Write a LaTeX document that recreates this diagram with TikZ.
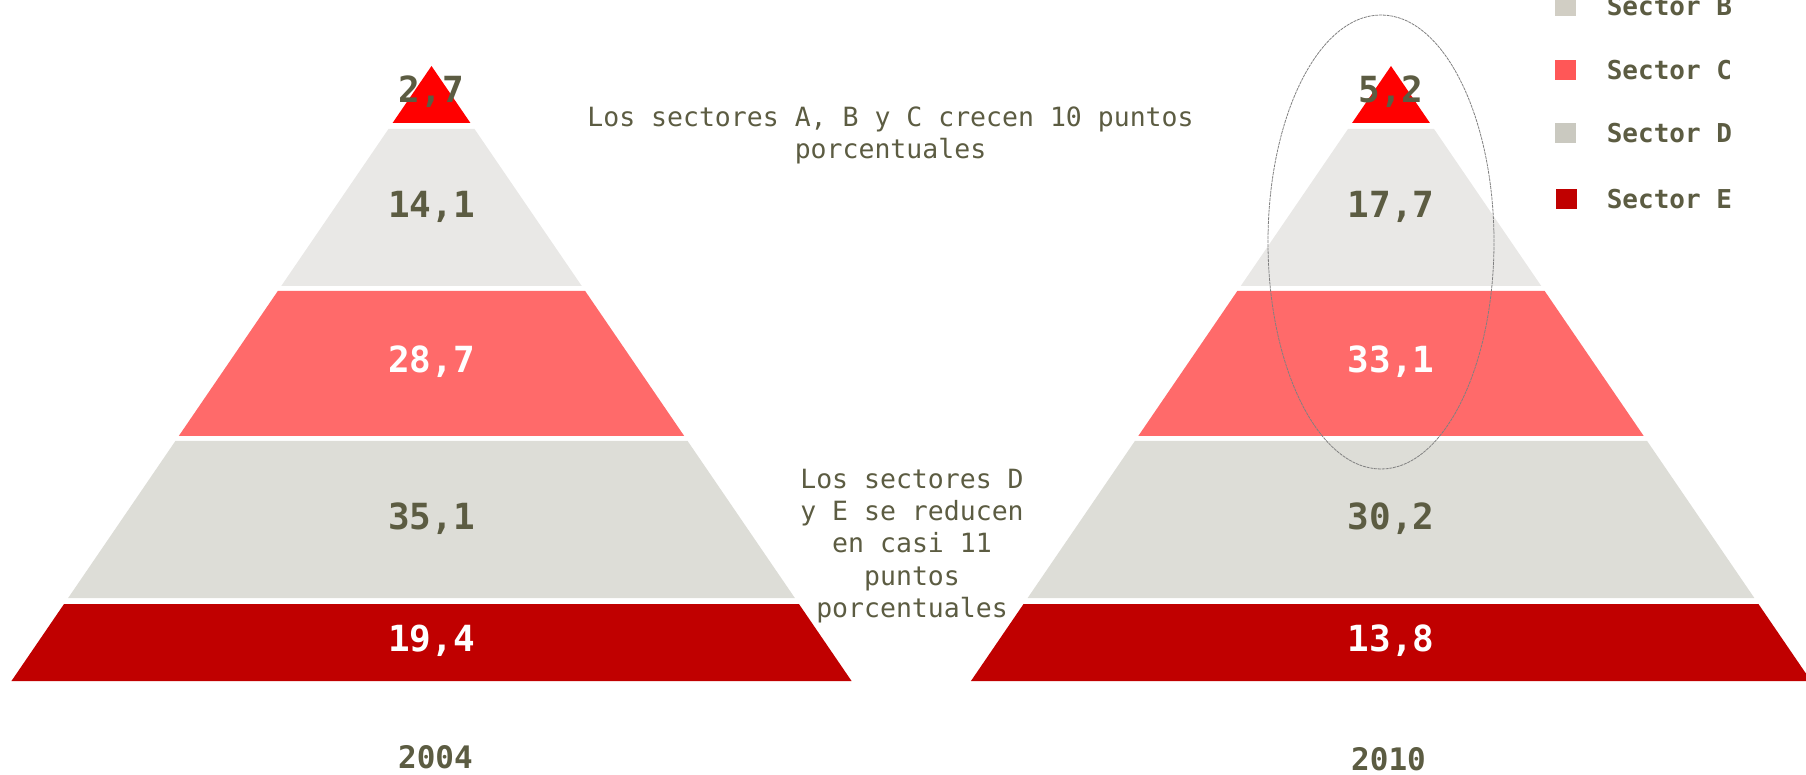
\documentclass[tikz,border=0pt]{standalone}
\usepackage{fontspec}
\setmainfont{DejaVu Sans Mono}
\usetikzlibrary{positioning}

\definecolor{inktext}{HTML}{5C5C42}
\definecolor{tierA}{HTML}{FF0000}
\definecolor{tierB}{HTML}{E9E8E6}
\definecolor{tierC}{HTML}{FF6A6A}
\definecolor{tierD}{HTML}{DDDDD7}
\definecolor{tierE}{HTML}{C00000}
\definecolor{keyB}{HTML}{D1CEC4}
\definecolor{keyC}{HTML}{FF5757}
\definecolor{keyD}{HTML}{CAC9C0}
\definecolor{keyE}{HTML}{C00000}

\tikzset{
  value/.style={font=\bfseries\fontsize{18}{20}\selectfont, text=inktext, inner sep=0pt},
  valuelight/.style={value, text=white},
  year/.style={font=\bfseries\fontsize{15.5}{18}\selectfont, text=inktext, inner sep=0pt},
  note/.style={font=\fontsize{13.25}{16.2}\selectfont, text=inktext, align=center, inner sep=0pt},
  key/.style={minimum width=10.5pt, minimum height=10pt, inner sep=0pt},
  keytext/.style={font=\bfseries\fontsize{13}{15}\selectfont, text=inktext, inner sep=0pt},
  ring/.style={gray, line width=0.4pt, dash pattern=on 1.5pt off 0.4pt}
}

\begin{document}
\begin{tikzpicture}[x=0.5pt,y=-0.5pt]
  \useasboundingbox (0,0) rectangle (1806,775);

  % the two pyramids, one layer at a time
  \foreach \cx in {431.5,1391} {
    \foreach \t/\b/\c in {66/123/tierA,129/286/tierB,291/436/tierC,441/598/tierD,604/681/tierE}
      \fill[\c] ({\cx-(\t-66)*0.683},\t) -- ({\cx+(\t-66)*0.683},\t)
        -- ({\cx+(\b-66)*0.683},\b) -- ({\cx-(\b-66)*0.683},\b) -- cycle;
  }

  % 2004
  \node[value] (a1) at (431.5,92) {2,7};
  \node[value] (a2) at (431.5,207) {14,1};
  \node[valuelight] (a3) at (431.5,362) {28,7};
  \node[value] (a4) at (431.5,519) {35,1};
  \node[valuelight] (a5) at (431.5,641) {19,4};
  \node[year] (y04) at (435.5,757) {2004};

  % 2010
  \node[value] (b1) at (1391,92) {5,2};
  \node[value] (b2) at (1391,207) {17,7};
  \node[valuelight] (b3) at (1391,362) {33,1};
  \node[value] (b4) at (1391,519) {30,2};
  \node[valuelight] (b5) at (1391,641) {13,8};
  \node[year] (y10) at (1388.5,759) {2010};

  \draw[ring] (1381,242) ellipse [x radius=56.5pt, y radius=113.5pt];

  \node[note] (n1) at (890.5,135.5) {Los sectores A, B y C crecen 10 puntos\\porcentuales};
  \node[note] (n2) at (912,546) {Los sectores D\\y E se reducen\\en casi 11\\puntos\\porcentuales};

  % legend
  \node[key, fill=keyB] (kB) at (1565.5,6.5) {};
  \node[key, fill=keyC] (kC) at (1565.5,70) {};
  \node[key, fill=keyD] (kD) at (1565.5,133) {};
  \node[key, fill=keyE] (kE) at (1566.5,199) {};
  \node[keytext, right=15pt of kB] (tB) {Sector B};
  \node[keytext, right=15pt of kC] (tC) {Sector C};
  \node[keytext, right=15pt of kD] (tD) {Sector D};
  \node[keytext, right=14.5pt of kE] (tE) {Sector E};
\end{tikzpicture}
\end{document}
